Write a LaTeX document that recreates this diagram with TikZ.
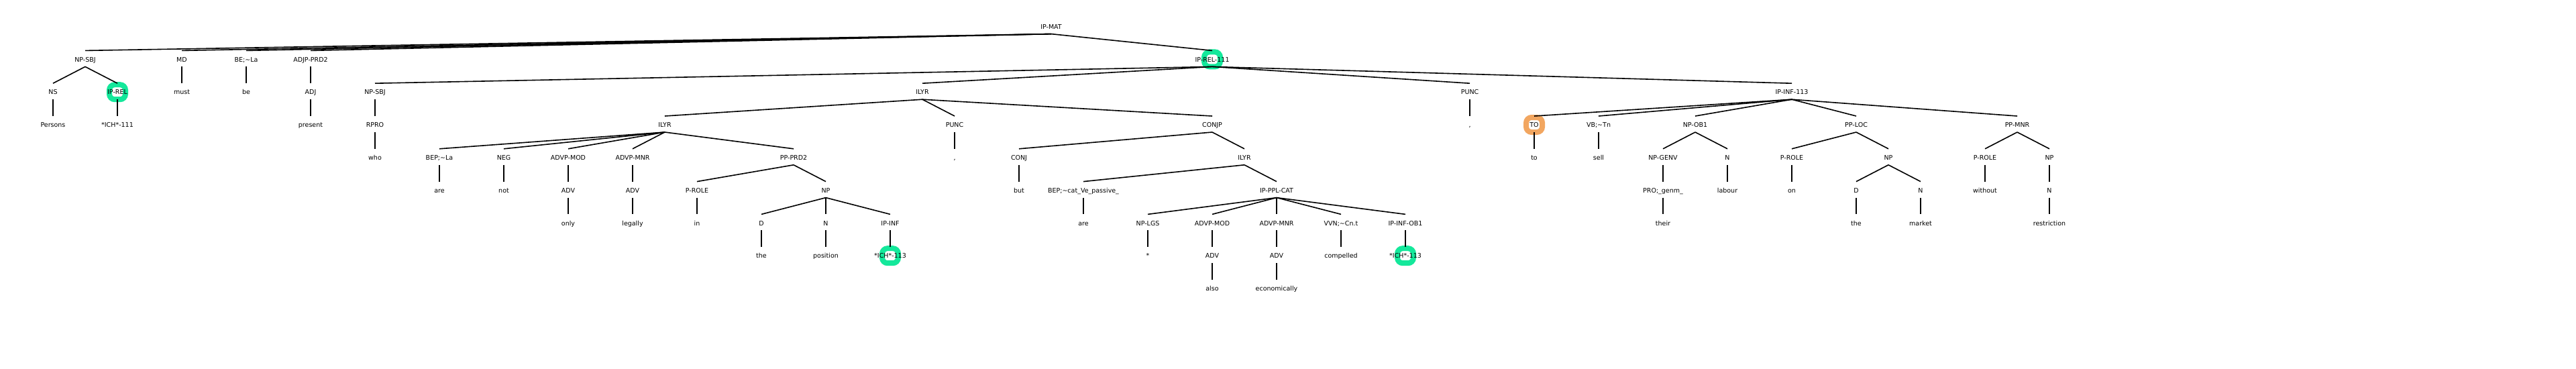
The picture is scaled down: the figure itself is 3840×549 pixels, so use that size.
\documentclass[tikz,border=0pt]{standalone}
\usepackage{fontspec}
\setmainfont{DejaVu Sans}
\pgfdeclarelayer{bg}
\pgfdeclarelayer{ringlayer}
\pgfsetlayers{bg,ringlayer,main}
\definecolor{ringg}{RGB}{20,232,155}
\definecolor{ringo}{RGB}{242,166,96}
\newcommand\Nd[4]{\node[lab] (#1) at (#2,{-(43.2+48.8*#3)}) {#4};}
\begin{document}
\begin{tikzpicture}[x=1pt,y=1pt,
  lab/.style={font=\fontsize{9.5}{11}\selectfont, inner sep=0pt, outer sep=0pt,
              text height=16.6pt, text depth=7.4pt, anchor=base},
  edge/.style={line width=1.6pt, black},
  ring/.style={line width=8pt, rounded corners=8pt, minimum width=24pt,
               minimum height=22pt, inner sep=0pt, outer sep=0pt}]
\useasboundingbox (0,0) rectangle (3840,-549);
\begin{pgfonlayer}{bg}
\fill[white] (0,0) rectangle (3840,-549);
\end{pgfonlayer}
% level 0
\Nd{root}{1567}{0}{IP-MAT}
% left part
\Nd{a1}{127}{1}{NP-SBJ}
\Nd{a1a}{79}{2}{NS}
\Nd{a1aw}{79}{3}{Persons}
\Nd{a1b}{175}{2}{IP-REL}
\Nd{a1bw}{175}{3}{*ICH*-111}
\Nd{a2}{271}{1}{MD}
\Nd{a2w}{271}{2}{must}
\Nd{a3}{367}{1}{BE;\string~La}
\Nd{a3w}{367}{2}{be}
\Nd{a4}{463}{1}{ADJP-PRD2}
\Nd{a4a}{463}{2}{ADJ}
\Nd{a4aw}{463}{3}{present}
% IP-REL-111
\Nd{r}{1807}{1}{IP-REL-111}
\Nd{r1}{559}{2}{NP-SBJ}
\Nd{r1a}{559}{3}{RPRO}
\Nd{r1aw}{559}{4}{who}
\Nd{r2}{1375}{2}{ILYR}
\Nd{s}{991}{3}{ILYR}
\Nd{s1}{655}{4}{BEP;\string~La}
\Nd{s1w}{655}{5}{are}
\Nd{s2}{751}{4}{NEG}
\Nd{s2w}{751}{5}{not}
\Nd{s3}{847}{4}{ADVP-MOD}
\Nd{s3a}{847}{5}{ADV}
\Nd{s3aw}{847}{6}{only}
\Nd{s4}{943}{4}{ADVP-MNR}
\Nd{s4a}{943}{5}{ADV}
\Nd{s4aw}{943}{6}{legally}
\Nd{s5}{1183}{4}{PP-PRD2}
\Nd{s5a}{1039}{5}{P-ROLE}
\Nd{s5aw}{1039}{6}{in}
\Nd{s5b}{1231}{5}{NP}
\Nd{s5b1}{1135}{6}{D}
\Nd{s5b1w}{1135}{7}{the}
\Nd{s5b2}{1231}{6}{N}
\Nd{s5b2w}{1231}{7}{position}
\Nd{s5b3}{1327}{6}{IP-INF}
\Nd{s5b3w}{1327}{7}{*ICH*-113}
\Nd{p1}{1423}{3}{PUNC}
\Nd{p1w}{1423}{4}{,}
\Nd{c}{1807}{3}{CONJP}
\Nd{c1}{1519}{4}{CONJ}
\Nd{c1w}{1519}{5}{but}
\Nd{c2}{1855}{4}{ILYR}
\Nd{c2a}{1615}{5}{BEP;\string~cat\_Ve\_passive\_}
\Nd{c2aw}{1615}{6}{are}
\Nd{c2b}{1903}{5}{IP-PPL-CAT}
\Nd{t1}{1711}{6}{NP-LGS}
\Nd{t1w}{1711}{7}{*}
\Nd{t2}{1807}{6}{ADVP-MOD}
\Nd{t2a}{1807}{7}{ADV}
\Nd{t2aw}{1807}{8}{also}
\Nd{t3}{1903}{6}{ADVP-MNR}
\Nd{t3a}{1903}{7}{ADV}
\Nd{t3aw}{1903}{8}{economically}
\Nd{t4}{1999}{6}{VVN;\string~Cn.t}
\Nd{t4w}{1999}{7}{compelled}
\Nd{t5}{2095}{6}{IP-INF-OB1}
\Nd{t5w}{2095}{7}{*ICH*-113}
\Nd{p2}{2191}{2}{PUNC}
\Nd{p2w}{2191}{3}{,}
\Nd{q}{2671}{2}{IP-INF-113}
\Nd{q1}{2287}{3}{TO}
\Nd{q1w}{2287}{4}{to}
\Nd{q2}{2383}{3}{VB;\string~Tn}
\Nd{q2w}{2383}{4}{sell}
\Nd{q3}{2527}{3}{NP-OB1}
\Nd{q3a}{2479}{4}{NP-GENV}
\Nd{q3aa}{2479}{5}{PRO;\_genm\_}
\Nd{q3aaw}{2479}{6}{their}
\Nd{q3b}{2575}{4}{N}
\Nd{q3bw}{2575}{5}{labour}
\Nd{q4}{2767}{3}{PP-LOC}
\Nd{q4a}{2671}{4}{P-ROLE}
\Nd{q4aw}{2671}{5}{on}
\Nd{q4b}{2815}{4}{NP}
\Nd{q4b1}{2767}{5}{D}
\Nd{q4b1w}{2767}{6}{the}
\Nd{q4b2}{2863}{5}{N}
\Nd{q4b2w}{2863}{6}{market}
\Nd{q5}{3007}{3}{PP-MNR}
\Nd{q5a}{2959}{4}{P-ROLE}
\Nd{q5aw}{2959}{5}{without}
\Nd{q5b}{3055}{4}{NP}
\Nd{q5ba}{3055}{5}{N}
\Nd{q5baw}{3055}{6}{restriction}
% edges
\foreach \p/\c in {root/a1,root/a2,root/a3,root/a4,root/r,
  a1/a1a,a1a/a1aw,a1/a1b,a1b/a1bw,a2/a2w,a3/a3w,a4/a4a,a4a/a4aw,
  r/r1,r1/r1a,r1a/r1aw,r/r2,r/p2,r/q,
  r2/s,r2/p1,r2/c,
  s/s1,s1/s1w,s/s2,s2/s2w,s/s3,s3/s3a,s3a/s3aw,s/s4,s4/s4a,s4a/s4aw,s/s5,
  s5/s5a,s5a/s5aw,s5/s5b,s5b/s5b1,s5b1/s5b1w,s5b/s5b2,s5b2/s5b2w,s5b/s5b3,s5b3/s5b3w,
  p1/p1w,c/c1,c1/c1w,c/c2,c2/c2a,c2a/c2aw,c2/c2b,
  c2b/t1,t1/t1w,c2b/t2,t2/t2a,t2a/t2aw,c2b/t3,t3/t3a,t3a/t3aw,c2b/t4,t4/t4w,c2b/t5,t5/t5w,
  p2/p2w,q/q1,q1/q1w,q/q2,q2/q2w,q/q3,q3/q3a,q3a/q3aa,q3aa/q3aaw,q3/q3b,q3b/q3bw,
  q/q4,q4/q4a,q4a/q4aw,q4/q4b,q4b/q4b1,q4b1/q4b1w,q4b/q4b2,q4b2/q4b2w,
  q/q5,q5/q5a,q5a/q5aw,q5/q5b,q5b/q5ba,q5ba/q5baw}
  \draw[edge] (\p.south) -- (\c.north);
% highlight rings
\begin{pgfonlayer}{ringlayer}
\foreach \n in {a1b,r,s5b3w,t5w}
  \node[ring, draw=ringg] at ([yshift=-1pt]\n.center) {};
\node[ring, draw=ringo] at ([yshift=-1pt]q1.center) {};
\end{pgfonlayer}
\end{tikzpicture}
\end{document}
